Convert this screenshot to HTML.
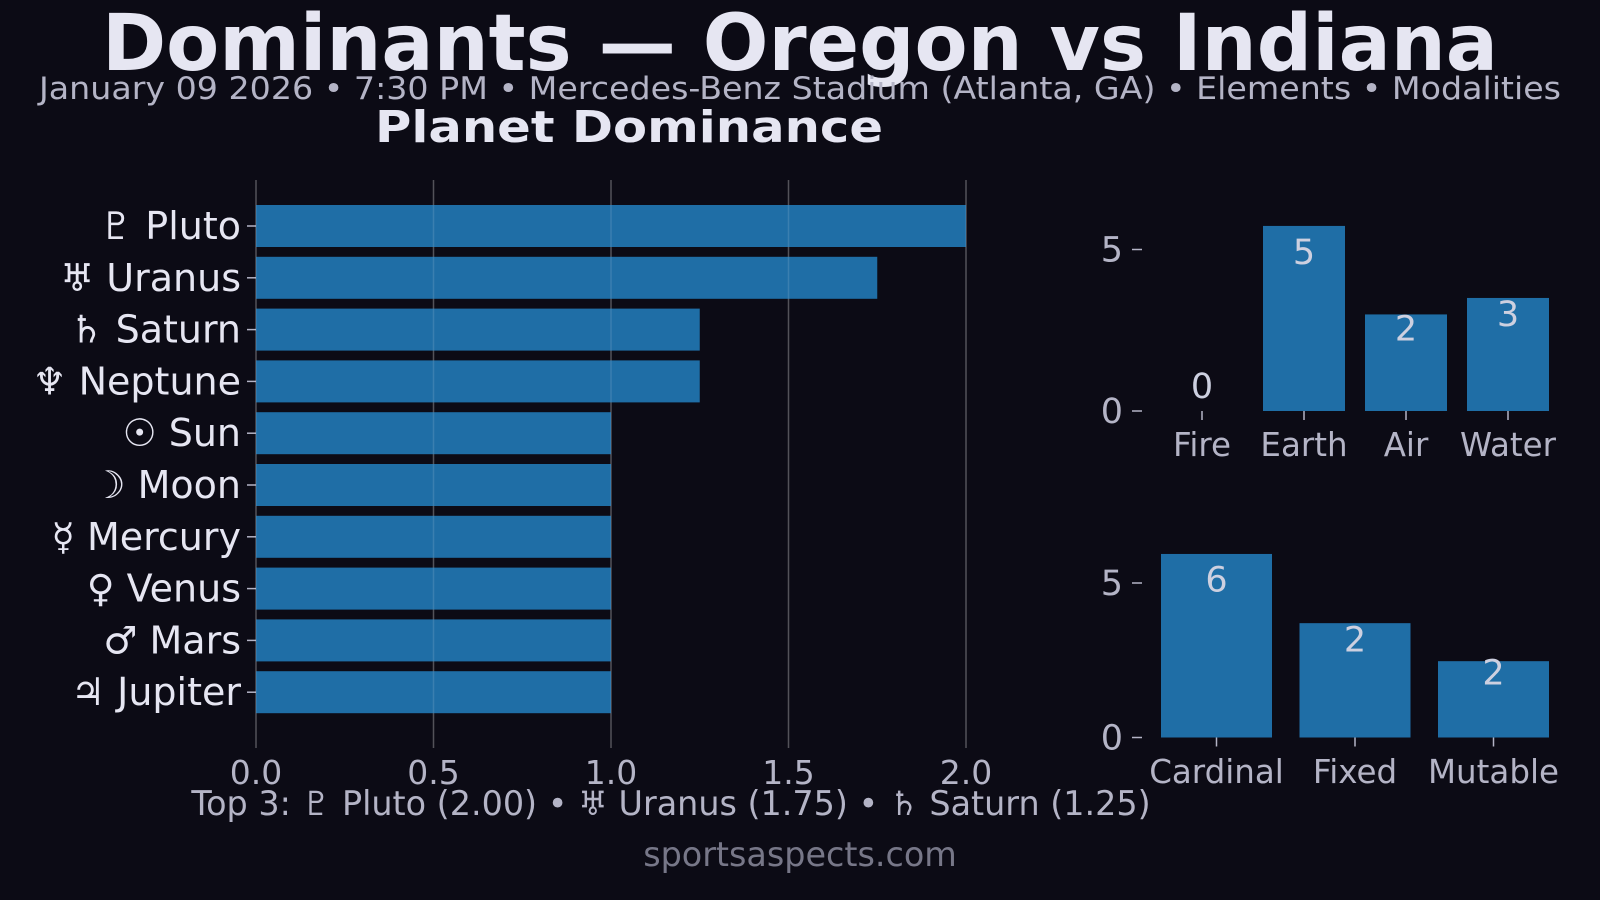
<!DOCTYPE html>
<html><head><meta charset="utf-8"><style>
html,body{margin:0;padding:0;background:#0c0b15;}
svg{display:block;font-family:"DejaVu Sans","Liberation Sans",sans-serif;}
</style></head><body>
<svg id="c" width="1600" height="900" viewBox="0 0 1600 900" xmlns="http://www.w3.org/2000/svg">
<rect width="1600" height="900" fill="#0c0b15"/>
<text x="800" y="70" text-anchor="middle" font-size="78" font-weight="bold" fill="#e6e6f2" textLength="1396" lengthAdjust="spacingAndGlyphs">Dominants — Oregon vs Indiana</text>
<text x="800" y="99" text-anchor="middle" font-size="31" fill="#b4b4c6" textLength="1522" lengthAdjust="spacingAndGlyphs">January 09 2026 • 7:30 PM • Mercedes-Benz Stadium (Atlanta, GA) • Elements • Modalities</text>
<text x="629" y="142" text-anchor="middle" font-size="44" font-weight="bold" fill="#e6e6f2" textLength="508" lengthAdjust="spacingAndGlyphs">Planet Dominance</text>
<g id="planet"></g>
<g id="elem"></g>
<g id="mod"></g>
<text x="671" y="815" text-anchor="middle" font-size="33.4" fill="#b4b4c6">Top 3: ♇ Pluto (2.00) • ♅ Uranus (1.75) • ♄ Saturn (1.25)</text>
<text x="800" y="866" text-anchor="middle" font-size="33.4" fill="#777788">sportsaspects.com</text>
</svg>
<script>
const planetNames = ["♇ Pluto","♅ Uranus","♄ Saturn","♆ Neptune","☉ Sun","☽ Moon","☿ Mercury","♀ Venus","♂ Mars","♃ Jupiter"];
const planetScores = [2.0,1.75,1.25,1.25,1.0,1.0,1.0,1.0,1.0,1.0];
const planetTicks = [0,0.5,1.0,1.5,2.0];
const elementNames = ["Fire","Earth","Air","Water"];
const elementValues = [0,5.73,2.99,3.5];
const elementLabels = ["0","5","2","3"];
const modalityNames = ["Cardinal","Fixed","Mutable"];
const modalityValues = [5.94,3.7,2.47];
const modalityLabels = ["6","2","2"];
const smallTicks = [0,5];

const NS="http://www.w3.org/2000/svg";
function mk(parent,tag,attrs,text){const e=document.createElementNS(NS,tag);for(const k in attrs)e.setAttribute(k,attrs[k]);if(text!==undefined)e.textContent=text;parent.appendChild(e);return e;}
const BAR="#1f6ea6", TICK="#b4b4c6";

(function(){
  const g=document.getElementById('planet');
  const x0=256, x1=966, vmax=2.0;
  const xs=v=>x0+(v/vmax)*(x1-x0);
  const yTop=205, step=51.8, bh=42;
  planetTicks.forEach(t=>{
    const l=mk(g,'line',{x1:xs(t),x2:xs(t),y1:180,y2:748,stroke:'#ffffff','stroke-opacity':0.2,'stroke-width':1.5});
    
    
    const tk=mk(g,'text',{x:xs(t),y:784,'text-anchor':'middle','font-size':33,fill:TICK},t.toFixed(1));
    
    
  });
  planetScores.forEach((v,i)=>{
    const y=yTop+i*step;
    const r=mk(g,'rect',{x:x0,y:y,width:xs(v)-x0,height:bh,fill:BAR});
    
    
    const tm=mk(g,'line',{x1:x0-9,x2:x0,y1:y+bh/2,y2:y+bh/2,stroke:TICK,'stroke-width':1.5});
    
    
    const lb=mk(g,'text',{x:x0-15,y:y+bh/2+13,'text-anchor':'end','font-size':38,fill:'#e6e6f2'},planetNames[i]);
    
    
  });
  planetTicks.forEach(t=>{
    const l=mk(g,'line',{x1:xs(t),x2:xs(t),y1:180,y2:748,stroke:'#ffffff','stroke-opacity':0.12,'stroke-width':1.5});
    
    
  });
})();

function smallChart(id,names,vals,labels,y0,pxPerUnit,firstCenter,spacing,bw,labelY){
  const g=document.getElementById(id);
  const ys=v=>y0-v*pxPerUnit;
  smallTicks.forEach(t=>{
    const tm=mk(g,'line',{x1:1132,x2:1142,y1:ys(t),y2:ys(t),stroke:TICK,'stroke-width':1.5});
    
    
    const tl=mk(g,'text',{x:1123,y:ys(t)+12,'text-anchor':'end','font-size':35,fill:TICK},String(t));
    
    
  });
  vals.forEach((v,i)=>{
    const cx=firstCenter+i*spacing;
    const r=mk(g,'rect',{x:cx-bw/2,y:ys(v),width:bw,height:v*pxPerUnit,fill:BAR});
    
    
    const tm=mk(g,'line',{x1:cx,x2:cx,y1:y0,y2:y0+9,stroke:TICK,'stroke-width':1.5});
    
    
    const cl=mk(g,'text',{x:cx,y:labelY,'text-anchor':'middle','font-size':32.5,fill:TICK},names[i]);
    
    
    const ly = v*pxPerUnit < 45 ? y0-13 : ys(v*0.865)+13;
    const vl=mk(g,'text',{x:cx,y:ly,'text-anchor':'middle','font-size':35,fill:'#cdd0e0'},labels[i]);
    
    
  });
}
smallChart('elem',elementNames,elementValues,elementLabels,411,32.3,1202,102,82,456);
smallChart('mod',modalityNames,modalityValues,modalityLabels,737.5,30.9,1216.5,138.5,111,783);
</script>
</body></html>
